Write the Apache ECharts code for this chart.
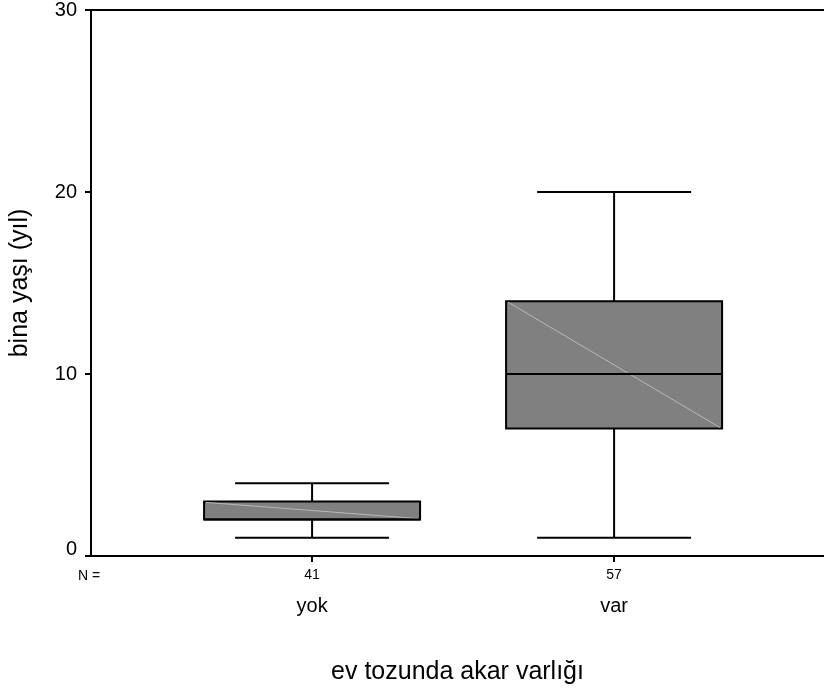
<!DOCTYPE html>
<html>
<head>
<meta charset="utf-8">
<script src="https://cdn.jsdelivr.net/npm/echarts@6/dist/echarts.min.js"></script>
<style>html,body{margin:0;padding:0;background:#fff}#c{width:824px;height:693px}</style>
</head>
<body>
<div id="c"></div>
<script>
var categories = ['yok', 'var'];
var positions = [1, 2];
var counts = [41, 57];
var whiskerLow = [1, 1];
var q1 = [2, 7];
var medians = [2, 10];
var q3 = [3, 14];
var whiskerHigh = [4, 20];
var yTicks = [0, 10, 20, 30];

var FONT = 'Arial, "Liberation Sans", sans-serif';
var rows = positions.map(function (p, i) {
  return [p, whiskerLow[i], q1[i], medians[i], q3[i], whiskerHigh[i]];
});

var chart = echarts.init(document.getElementById('c'));
chart.setOption({
  animation: false,
  backgroundColor: '#fff',
  textStyle: { fontFamily: FONT },
  grid: { left: 91, top: 10, right: 0, bottom: 137, containLabel: false },
  xAxis: [{
    type: 'value', min: 0.268, max: 2.695,
    axisLine: { show: true, lineStyle: { color: '#000', width: 2 } },
    axisTick: { show: true, customValues: positions, length: 6, lineStyle: { color: '#000', width: 2 } },
    axisLabel: {
      show: true, customValues: positions, margin: 10, color: '#000',
      formatter: function (v) {
        var i = positions.indexOf(Math.round(v));
        return '{n|' + counts[i] + '}\n{c|' + categories[i] + '}';
      },
      rich: {
        n: { fontSize: 14, lineHeight: 18, color: '#000', fontFamily: FONT },
        c: { fontSize: 20, lineHeight: 44, color: '#000', fontFamily: FONT }
      }
    },
    splitLine: { show: false },
    name: 'ev tozunda akar varlığı', nameLocation: 'middle', nameGap: 104,
    nameTextStyle: { fontSize: 25, color: '#000', fontFamily: FONT }
  }, {
    type: 'value', position: 'top', min: 0.268, max: 2.695,
    axisLine: { show: true, onZero: false, lineStyle: { color: '#000', width: 2 } },
    axisTick: { show: false }, axisLabel: { show: false }, splitLine: { show: false }
  }],
  yAxis: {
    type: 'value', min: 0, max: 30, interval: 10,
    axisLine: { show: true, lineStyle: { color: '#000', width: 2 } },
    axisTick: { show: true, length: 6, lineStyle: { color: '#000', width: 2 } },
    axisLabel: { fontSize: 20, color: '#000', margin: 14, fontFamily: FONT,
      formatter: function (v) {
        if (yTicks.indexOf(v) < 0) return '';
        return v === 0 ? '{z|' + v + '}' : String(v);
      },
      rich: { z: { fontSize: 20, color: '#000', fontFamily: FONT, padding: [0, 0, 14, 0] } }
    },
    splitLine: { show: false },
    name: 'bina yaşı (yıl)', nameLocation: 'middle', nameGap: 58,
    nameTextStyle: { fontSize: 25, color: '#000', fontFamily: FONT }
  },
  graphic: [{
    type: 'text', left: 78, top: 569,
    style: { text: 'N =', fontSize: 14, fill: '#000', fontFamily: FONT }
  }],
  series: [{
    type: 'custom',
    xAxisIndex: 0,
    data: rows,
    renderItem: function (params, api) {
      var x = api.value(0);
      var pLo = api.coord([x, api.value(1)]);
      var pQ1 = api.coord([x, api.value(2)]);
      var pMed = api.coord([x, api.value(3)]);
      var pQ3 = api.coord([x, api.value(4)]);
      var pHi = api.coord([x, api.value(5)]);
      var cx = pQ1[0];
      var bw = 216, cw = 154;
      var ls = { stroke: '#000', lineWidth: 2 };
      return {
        type: 'group',
        children: [
          { type: 'line', shape: { x1: cx, y1: pHi[1], x2: cx, y2: pQ3[1] }, style: ls },
          { type: 'line', shape: { x1: cx, y1: pQ1[1], x2: cx, y2: pLo[1] }, style: ls },
          { type: 'line', shape: { x1: cx - cw / 2, y1: pHi[1], x2: cx + cw / 2, y2: pHi[1] }, style: ls },
          { type: 'line', shape: { x1: cx - cw / 2, y1: pLo[1], x2: cx + cw / 2, y2: pLo[1] }, style: ls },
          { type: 'rect', shape: { x: cx - bw / 2, y: pQ3[1], width: bw, height: pQ1[1] - pQ3[1] },
            style: { fill: '#808080', stroke: '#000', lineWidth: 2 } },
          { type: 'line', shape: { x1: cx - bw / 2 + 2, y1: pQ3[1] + 1, x2: cx + bw / 2 - 2, y2: pQ1[1] - 1 },
            style: { stroke: '#b8b8b8', lineWidth: 1 } },
          { type: 'line', shape: { x1: cx - bw / 2, y1: pMed[1], x2: cx + bw / 2, y2: pMed[1] }, style: ls }
        ]
      };
    }
  }]
});
</script>
</body>
</html>
